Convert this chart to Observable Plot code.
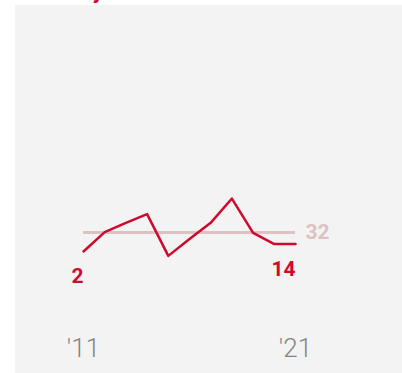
<!DOCTYPE html>
<html><head><meta charset="utf-8">
<script src="https://cdn.jsdelivr.net/npm/d3@7"></script>
<script src="https://cdn.jsdelivr.net/npm/@observablehq/plot@0.6"></script>
<style>
html,body{margin:0;padding:0;background:#fff;overflow:hidden;width:402px;height:373px;}
#title{position:absolute;left:23px;top:-20px;font:bold 22px Roboto,"Liberation Sans",sans-serif;color:#cf0a2c;line-height:22px;white-space:nowrap;}
#panel{position:absolute;left:15px;top:5px;width:387px;height:368px;background:#f3f3f3;}
#panel svg{display:block;}
</style></head><body>
<div id="title">Monthly</div>
<div id="panel"></div>
<script>
const years = [2011, 2012, 2013, 2014, 2015, 2016, 2017, 2018, 2019, 2020, 2021];
const values = [2, 33, 48, 62, -5, 22, 48, 87, 32, 14, 14];
const tickYears = [2011, 2021];
const tickLabels = ["'11", "'21"];

const data = years.map((year, i) => ({year, value: values[i]}));
const mean = d3.mean(values);
const ends = [data[0], data[data.length - 1]];
const ticks = tickYears.map((year, i) => ({year, label: tickLabels[i]}));
const refLine = [{y: mean, x1: years[0], x2: years[years.length - 1]}];

const red = "#cf0a2c";
const pink = "#dcc2c2";

const chart = Plot.plot({
  width: 387,
  height: 368,
  marginLeft: 0, marginRight: 0, marginTop: 0, marginBottom: 0,
  style: {background: "transparent", fontFamily: "Roboto, sans-serif", overflow: "visible"},
  x: {domain: [2011, 2021], range: [68, 280], axis: null},
  y: {domain: [0, 100], range: [247.25, 184.95], axis: null},
  marks: [
    Plot.ruleY(refLine, {y: "y", x1: "x1", x2: "x2", stroke: pink, strokeWidth: 3}),
    Plot.line(data, {x: "year", y: "value", stroke: red, strokeWidth: 2.5}),
    Plot.text(ends, {x: "year", y: "value", text: d => String(d.value), textAnchor: "end", dy: 25, fontSize: 21, fontWeight: 700, fill: red}),
    Plot.text(refLine, {x: "x2", y: "y", text: d => String(Math.round(d.y)), textAnchor: "start", dx: 10, fontSize: 21, fontWeight: 700, fill: pink}),
    Plot.text(ticks, {x: "year", frameAnchor: "bottom", text: "label", dy: -17, fontSize: 26, fontWeight: 300, fill: "#858585"})
  ]
});
document.getElementById("panel").appendChild(chart);
</script>
</body></html>
